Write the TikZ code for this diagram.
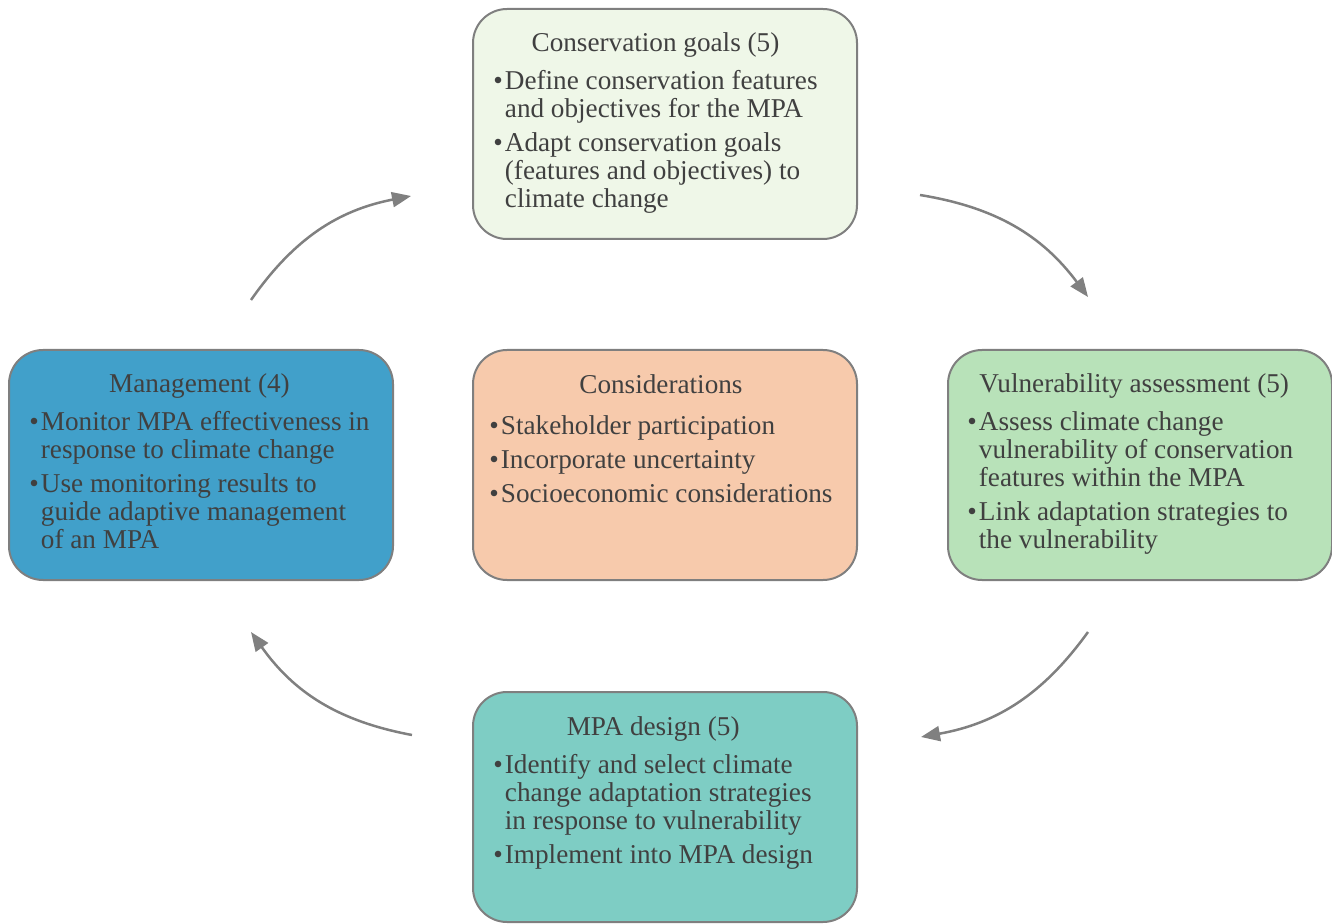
\documentclass[tikz,border=0pt]{standalone}
\usepackage{fontspec}
\setmainfont{Liberation Serif}
\usetikzlibrary{arrows.meta}
\definecolor{textgray}{HTML}{404040}
\definecolor{edgegray}{HTML}{7F7F7F}
\definecolor{arrowgray}{HTML}{808080}
\definecolor{goalfill}{HTML}{EFF7E8}
\definecolor{mgmtfill}{HTML}{41A0CA}
\definecolor{considerfill}{HTML}{F7CAAC}
\definecolor{vulnfill}{HTML}{B8E2B9}
\definecolor{designfill}{HTML}{7ECDC4}
\begin{document}
\begin{tikzpicture}[x=0.5pt, y=0.5pt,
    stagebox/.style={draw=edgegray, line width=1pt, rounded corners=17pt, minimum width=192pt, minimum height=115pt, inner sep=0pt},
    stagetext/.style={anchor=north west, inner sep=0pt, text=textgray, font=\fontsize{13.6}{14}\selectfont},
    cyclearrow/.style={draw=arrowgray, line width=1.25pt, -{Triangle[length=9.5pt,width=7.5pt]}, bend left=22}]
    \useasboundingbox (0,0) rectangle (1332,-924);
    % the five boxes
    \node (goals) [stagebox, fill=goalfill] at (665,-124) {};
    \node (mgmt) [stagebox, fill=mgmtfill] at (201,-465) {};
    \node (consider) [stagebox, fill=considerfill] at (665,-465) {};
    \node (vuln) [stagebox, fill=vulnfill] at (1140,-465) {};
    \node (design) [stagebox, fill=designfill] at (665,-807) {};
    % box texts
    \node (goalstext) [stagetext] at ([shift={(10.5pt,-12pt)}]goals.north west) {\begin{tabular}{@{}l@{\hspace{1pt}}l@{}}
        \multicolumn{2}{c}{Conservation goals (5)}\\[5pt]
        \textbullet & Define conservation features\\
        & and objectives for the MPA\\[3pt]
        \textbullet & Adapt conservation goals\\
        & (features and objectives) to\\
        & climate change
    \end{tabular}};
    \node (mgmttext) [stagetext] at ([shift={(10.5pt,-12pt)}]mgmt.north west) {\begin{tabular}{@{}l@{\hspace{1pt}}l@{}}
        \multicolumn{2}{c}{Management (4)}\\[5pt]
        \textbullet & Monitor MPA effectiveness in\\
        & response to climate change\\[3pt]
        \textbullet & Use monitoring results to\\
        & guide adaptive management\\
        & of an MPA
    \end{tabular}};
    \node (considertext) [stagetext] at ([shift={(8.5pt,-12.5pt)}]consider.north west) {\begin{tabular}{@{}l@{\hspace{1pt}}l@{}}
        \multicolumn{2}{c}{Considerations}\\[6.5pt]
        \textbullet & Stakeholder participation\\[3pt]
        \textbullet & Incorporate uncertainty\\[3pt]
        \textbullet & Socioeconomic considerations
    \end{tabular}};
    \node (vulntext) [stagetext] at ([shift={(10pt,-12pt)}]vuln.north west) {\begin{tabular}{@{}l@{\hspace{1pt}}l@{}}
        \multicolumn{2}{c}{Vulnerability assessment (5)}\\[5pt]
        \textbullet & Assess climate change\\
        & vulnerability of conservation\\
        & features within the MPA\\[3pt]
        \textbullet & Link adaptation strategies to\\
        & the vulnerability
    \end{tabular}};
    \node (designtext) [stagetext] at ([shift={(10.5pt,-12pt)}]design.north west) {\begin{tabular}{@{}l@{\hspace{1pt}}l@{}}
        \multicolumn{2}{c}{MPA design (5)}\\[5pt]
        \textbullet & Identify and select climate\\
        & change adaptation strategies\\
        & in response to vulnerability\\[3pt]
        \textbullet & Implement into MPA design
    \end{tabular}};
    % cycle arrows
    \coordinate (mgmtout) at (251,-300);
    \coordinate (goalsin) at (411,-196);
    \coordinate (goalsout) at (920,-195);
    \coordinate (vulnin) at (1088,-297);
    \coordinate (vulnout) at (1088,-632);
    \coordinate (designin) at (921,-737);
    \coordinate (designout) at (412,-735);
    \coordinate (mgmtin) at (251,-632);
    \draw[cyclearrow] (mgmtout) to (goalsin);
    \draw[cyclearrow] (goalsout) to (vulnin);
    \draw[cyclearrow] (vulnout) to (designin);
    \draw[cyclearrow] (designout) to (mgmtin);
\end{tikzpicture}
\end{document}
